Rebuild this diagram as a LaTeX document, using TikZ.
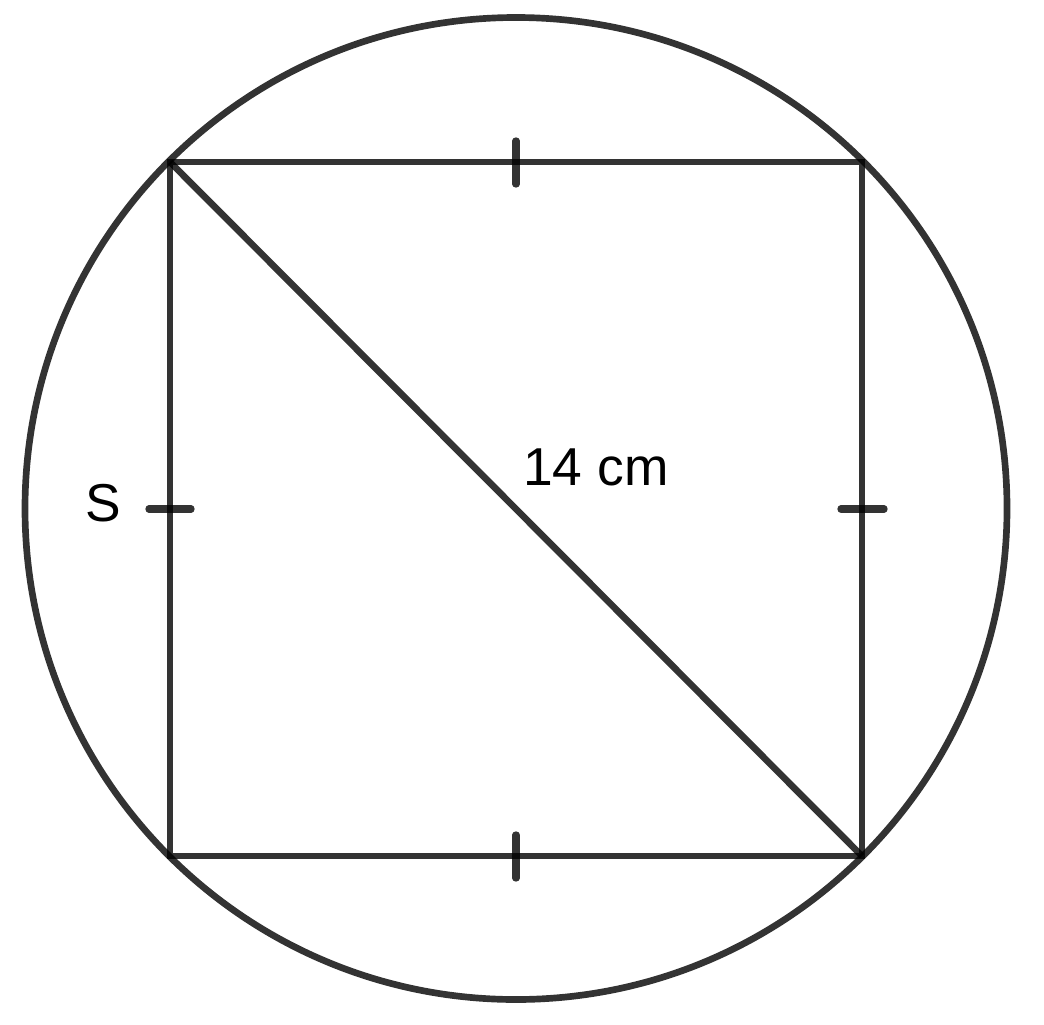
\documentclass[tikz,border=0pt]{standalone}
\usepackage{fontspec}
\setmainfont{Liberation Sans}
\begin{document}
\begin{tikzpicture}[x=0.75pt,y=-0.75pt,
  edge/.style={draw=black,draw opacity=0.8,line width=5pt},
  tick/.style={draw=black,draw opacity=0.8,line width=5.5pt,line cap=round},
  lbl/.style={inner sep=0pt,anchor=base west,font=\fontsize{40}{48}\selectfont}]
\useasboundingbox (0,0) rectangle (1044,1024);
\coordinate (O) at (516,508.5);
\coordinate (A) at (170,162);
\coordinate (B) at (862,162);
\coordinate (C) at (862,856);
\coordinate (D) at (170,856);
\draw[edge] (O) circle[radius=491];
\draw[edge,line join=miter] (A) -- (B) -- (C) -- (D) -- cycle;
\draw[edge] (A) -- (C);
\coordinate (t1a) at (516,141); \coordinate (t1b) at (516,184);
\coordinate (t2a) at (516,835); \coordinate (t2b) at (516,878);
\coordinate (t3a) at (149,509); \coordinate (t3b) at (191,509);
\coordinate (t4a) at (841,509); \coordinate (t4b) at (884,509);
\draw[tick] (t1a) -- (t1b);
\draw[tick] (t2a) -- (t2b);
\draw[tick] (t3a) -- (t3b);
\draw[tick] (t4a) -- (t4b);
\node[lbl] (d) at (523,485) {14 cm};
\node[lbl] (s) at (85,521) {S};
\end{tikzpicture}
\end{document}
